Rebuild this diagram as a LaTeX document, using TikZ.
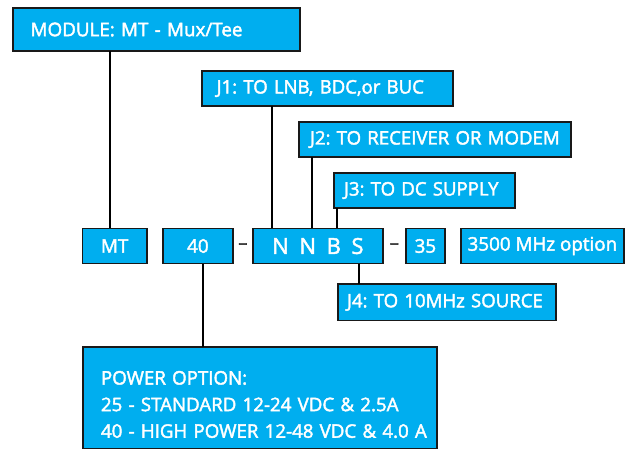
\documentclass[tikz,border=0pt]{standalone}
\usepackage{fontspec}
\setmainfont{Open Sans}[FakeBold=2.2]
\usepackage{tikz}
\usetikzlibrary{positioning, calc}
\definecolor{modblue}{HTML}{00AEEF}
\newcommand{\Lbl}[1]{\mbox{#1}}
\frenchspacing
\tikzset{
  every picture/.style={line width=0.65pt},
  node distance=8pt,
  box/.style={draw=black!90, fill=modblue, text=white, outer sep=0pt, inner sep=0pt},
  cell/.style={box, minimum height=17.7pt, font=\fontsize{9.4}{12}\selectfont},
  tag/.style={box, anchor=north west, align=left, minimum height=17.5pt, font=\fontsize{9.3}{11}\selectfont},
  sep/.style={inner sep=0pt, text=black!85, font=\fontsize{9}{11}\selectfont}
}

\begin{document}
\begin{tikzpicture}[x=0.5pt, y=-0.5pt]
    \useasboundingbox (0,0) rectangle (634,456);

    \node [tag, text width=125.9pt, inner xsep=8.8pt, minimum height=21.5pt, font=\fontsize{9.4}{11}\selectfont] (module) at (13,8) {\Lbl{MODULE: MT - Mux/Tee}};
    \node [tag, text width=110.9pt, inner xsep=7.3pt] (j1) at (202,71) {\Lbl{J1: TO LNB, BDC,or BUC}};
    \node [tag, text width=125pt, inner xsep=5.5pt] (j2) at (299,122) {\Lbl{J2: TO RECEIVER OR MODEM}};
    \node [tag, text width=80.5pt, inner xsep=5pt] (j3) at (334,173) {\Lbl{J3: TO DC SUPPLY}};

    \node [cell, anchor=north west, minimum width=32.3pt] (mt) at (82.3,228.3) {MT};
    \node [cell, right=of mt, minimum width=35pt] (p40) {40};
    \node [cell, right=10pt of p40, minimum width=65pt, font=\fontsize{11}{13}\selectfont] (nnbs) {N\hspace{5.3pt}N\hspace{5.3pt}B\hspace{5.3pt}S};
    \node [cell, right=11.5pt of nnbs, minimum width=19.5pt] (p35) {35};
    \node [cell, right=of p35, minimum width=81.5pt] (opt) {3500 MHz option};
    \node [sep] (d1) at ($(p40.east)!0.5!(nnbs.west)$) {--};
    \node [sep] (d2) at ($(nnbs.east)!0.5!(p35.west)$) {--};

    \node [tag, text width=100pt, inner xsep=4.5pt, minimum height=18.3pt] (j4) at (338,284) {\Lbl{J4: TO 10MHz SOURCE}};
    \node [tag, text width=159pt, inner xsep=9pt, inner ysep=12pt, text depth=20pt, font=\fontsize{9.35}{13.3}\selectfont] (power) at (83,347)
      {\Lbl{POWER OPTION:}\\ \Lbl{25 - STANDARD 12-24 VDC \& 2.5A}\\ \Lbl{40 - HIGH POWER 12-48 VDC \& 4.0 A}};

    \draw ([xshift=-2.35pt]mt.north) coordinate (c0) -- (c0 |- module.south);
    \draw ([xshift=35pt]j1.south west) coordinate (c1) -- (c1 |- nnbs.north);
    \draw ([xshift=6.5pt]j2.south west) coordinate (c2) -- (c2 |- nnbs.north);
    \draw ([xshift=1.5pt]j3.south west) coordinate (c3) -- (c3 |- nnbs.north);
    \draw ([xshift=10.5pt]j4.north west) coordinate (c4) -- (c4 |- nnbs.south);
    \draw ([xshift=60pt]power.north west) coordinate (c5) -- (c5 |- p40.south);
  \end{tikzpicture}
\end{document}
